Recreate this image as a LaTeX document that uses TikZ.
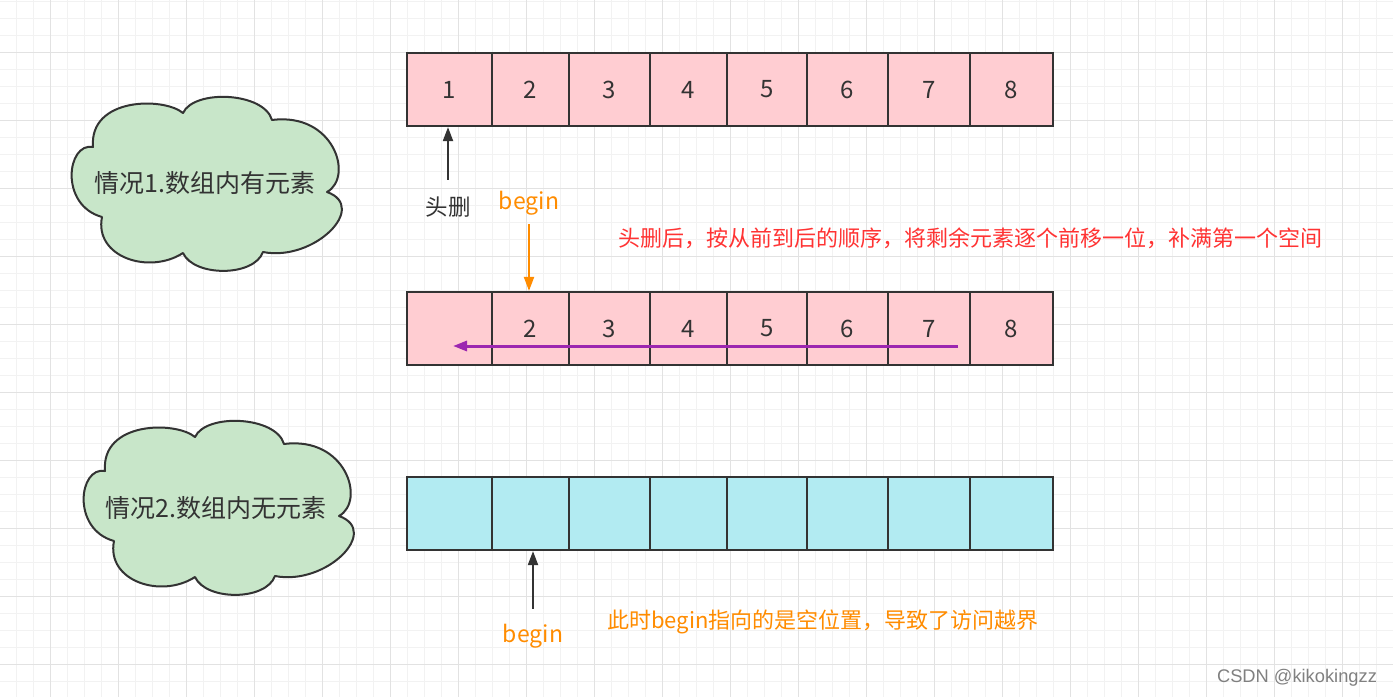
\documentclass[tikz,border=0pt]{standalone}
\usepackage{fontspec}
\setmainfont{Noto Sans CJK SC}
\setsansfont{Liberation Sans}
\usetikzlibrary{arrows.meta}

\definecolor{gridminor}{HTML}{F2F2F2}
\definecolor{gridmajor}{HTML}{E2E2E2}
\definecolor{cellpink}{HTML}{FFCDD2}
\definecolor{cellcyan}{HTML}{B2EBF2}
\definecolor{cloudgreen}{HTML}{C8E6C9}
\definecolor{inkgray}{HTML}{333333}
\definecolor{beginorange}{HTML}{FF8C00}
\definecolor{notered}{HTML}{FF3333}
\definecolor{shiftpurple}{HTML}{9C27B0}

% cloud outline, top left corner at #1
\newcommand\cloudoutline[1]{%
  \begin{scope}[shift={(#1)}]
    \draw[cloudline] (24,50) .. controls (-2,45) and (-10,108) .. (33,120)
      .. controls (25,160) and (80,178) .. (114,156)
      .. controls (125,180) and (185,180) .. (194,155)
      .. controls (245,165) and (300,110) .. (258,95)
      .. controls (285,80) and (265,15) .. (203,23)
      .. controls (195,-5) and (125,-8) .. (114,16)
      .. controls (95,0) and (20,0) .. (24,50) -- cycle;
  \end{scope}}

\begin{document}
\begin{tikzpicture}[x=1pt,y=-1pt,
  cell/.style={draw=inkgray, line width=2.2pt, minimum height=73pt, inner sep=0pt,
    text=inkgray, font=\fontsize{24}{28}\selectfont},
  txt/.style={inner sep=0pt, font=\fontsize{23}{27}\selectfont},
  ptr/.style={draw=inkgray, line width=2pt, -{Triangle[length=14pt,width=10pt]}},
  cloudline/.style={draw=inkgray, fill=cloudgreen, line width=2pt, line join=round}]
\useasboundingbox (0,0) rectangle (1393,697);
\fill[white] (0,0) rectangle (1393,697);

% background grid
\foreach \gx in {16,33,...,1393} \draw[gridminor, line width=1pt] (\gx,0) -- (\gx,697);
\foreach \gy in {1,18,...,697} \draw[gridminor, line width=1pt] (0,\gy) -- (1393,\gy);
\foreach \gx in {50,118,...,1393} \draw[gridmajor, line width=1pt] (\gx,0) -- (\gx,697);
\foreach \gy in {52,120,...,697} \draw[gridmajor, line width=1pt] (0,\gy) -- (1393,\gy);

% the two cases
\cloudoutline{69,97}
\node[txt, text=inkgray, font=\fontsize{25}{30}\selectfont] (case1) at (205,183) {情况1.数组内有元素};
\cloudoutline{81,421}
\node[txt, text=inkgray, font=\fontsize{25}{30}\selectfont] (case2) at (216,508) {情况2.数组内无元素};

% arrays
\foreach \l/\r/\n in {407/492/1,492/569/2,569/650/3,650/727/4,727/807/5,807/888/6,888/970/7,970/1053/8}{
  \node[cell, fill=cellpink, minimum width={(\r-\l)*1pt}] (top\n) at ({(\l+\r)/2},89.5) {\n};
  \node[cell, fill=cellpink, minimum width={(\r-\l)*1pt}] (mid\n) at ({(\l+\r)/2},328.5) {\ifnum\n>1 \n\fi};
  \node[cell, fill=cellcyan, minimum width={(\r-\l)*1pt}] (bot\n) at ({(\l+\r)/2},513.5) {};
}

% labels
\node[txt, text=inkgray, font=\fontsize{22.5}{26}\selectfont] (headdel) at (448,207) {头删};
\node[txt, text=beginorange] (begintop) at (529,203) {begin};
\node[txt, text=notered, font=\fontsize{22}{26}\selectfont, anchor=west] (note1) at (618,238) {头删后，按从前到后的顺序，将剩余元素逐个前移一位，补满第一个空间};
\node[txt, text=beginorange] (beginbot) at (533,636) {begin};
\node[txt, text=beginorange, font=\fontsize{22}{26}\selectfont, anchor=west] (note2) at (607,622) {此时begin指向的是空位置，导致了访问越界};
\node[txt, text=gray, font=\sffamily\fontsize{18.3}{20}\selectfont] (mark) at (1297,678) {CSDN @kikokingzz};

% arrows
\draw[ptr, shorten <=17pt] (headdel.north) -- (headdel.north |- top1.south);
\draw[ptr, draw=beginorange, shorten <=9pt] (begintop.south) -- (begintop.south |- mid2.north);
\draw[ptr, shorten <=15pt] (beginbot.north) -- (beginbot.north |- bot2.south);
\coordinate (shiftfrom) at (958,346);
\coordinate (shiftto) at (453,346);
\draw[ptr, draw=shiftpurple, line width=3pt] (shiftfrom) -- (shiftto);
\end{tikzpicture}
\end{document}
